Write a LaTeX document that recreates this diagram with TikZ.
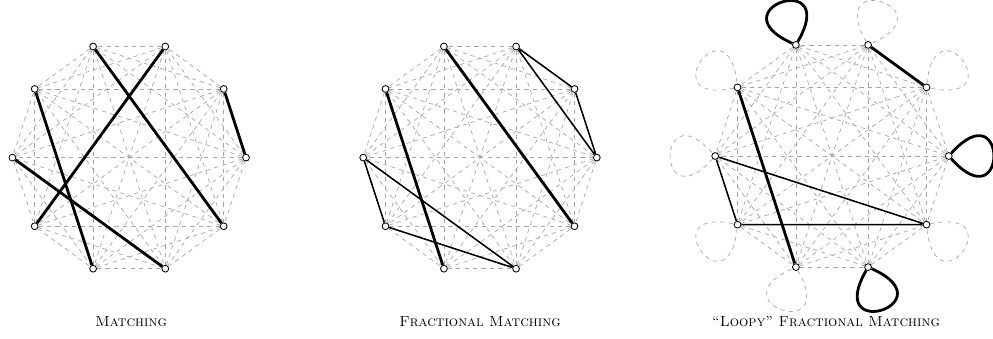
\documentclass[tikz,border=0pt]{standalone}
\usepackage{tikz}
\usetikzlibrary{arrows.meta, positioning}

\begin{document}
\begin{tikzpicture}[
    font=\fontsize{10.4}{12}\selectfont,
    vertex/.style={circle, draw, line width=0.6pt, fill=white, inner sep=0pt, minimum size=1.7mm},
    back/.style={gray!70, dashed, line width=0.5pt},
    heavy/.style={black, line width=2pt},
    light/.style={black, line width=1.1pt},
    title/.style={align=center}
]

\useasboundingbox (0,0) rectangle (24.825,-8.45);

% Vertices
\foreach \g/\cx/\cy in {a/3.23/-3.94, b/12.0/-3.94, c/20.8/-3.9} {
    \foreach \i in {0,...,9} {
        \node[vertex] (\g\i) at ([shift={(\cx,\cy)}]36*\i:2.92) {};
    }
}

% Complete graphs
\foreach \g in {a,b,c} {
    \foreach \i in {0,...,8} {
        \pgfmathtruncatemacro\k{\i+1}
        \foreach \j in {\k,...,9}
            \draw[back] (\g\i) -- (\g\j);
    }
}

% Matching
\draw[heavy] (a3) -- (a9);
\draw[heavy] (a2) -- (a6);
\draw[heavy] (a1) -- (a0);
\draw[heavy] (a4) -- (a7);
\draw[heavy] (a5) -- (a8);

% Fractional matching
\draw[heavy] (b3) -- (b9);
\draw[heavy] (b4) -- (b7);
\draw[light] (b0) -- (b1) -- (b2) -- (b0);
\draw[light] (b5) -- (b6) -- (b8) -- (b5);

% Loopy fractional matching
\draw[heavy] (c1) -- (c2);
\draw[heavy] (c4) -- (c7);
\draw[light] (c5) -- (c6) -- (c9) -- (c5);
\foreach \i in {1,2,4,5,6,7,9} {
    \pgfmathsetmacro\ao{36*\i+48}
    \pgfmathsetmacro\ai{36*\i-48}
    \draw[back] (c\i) to[out=\ao, in=\ai, min distance=2.12cm] (c\i);
}
\foreach \i in {0,3,8} {
    \pgfmathsetmacro\ao{36*\i+48}
    \pgfmathsetmacro\ai{36*\i-48}
    \draw[heavy] (c\i) to[out=\ao, in=\ai, min distance=2.12cm] (c\i);
}

% Captions
\node[title] (t1) at (3.28,-8.05) {\textsc{Matching}};
\node[title] (t2) at (12.0,-8.05) {\textsc{Fractional Matching}};
\node[title] (t3) at (20.65,-8.05) {\textsc{``Loopy'' Fractional Matching}};

\end{tikzpicture}
\end{document}
